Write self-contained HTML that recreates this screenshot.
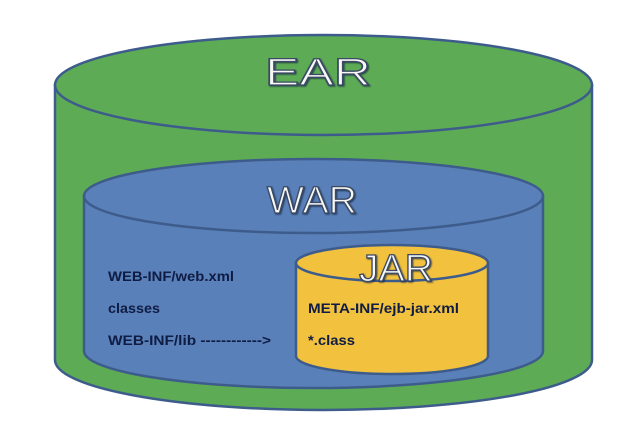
<!DOCTYPE html>
<html><head><style>html,body{margin:0;padding:0;background:#fff;width:633px;height:426px;overflow:hidden}</style></head>
<body>
<svg width="633" height="426" viewBox="0 0 633 426" xmlns="http://www.w3.org/2000/svg" font-family="Liberation Sans, sans-serif">
<defs><filter id="sh"><feDropShadow dx="1" dy="1" stdDeviation="0.8" flood-color="#1a2a45" flood-opacity="0.8"/></filter></defs>
<g stroke="#3d5c8c" stroke-width="2.5">
<path d="M55,85 L55,360 A268.5,50 0 0 0 592,360 L592,85 Z" fill="#5dac55"/>
<ellipse cx="323.5" cy="85" rx="268.5" ry="50" fill="#5dac55"/>
<path d="M84,196 L84,351 A229.5,37 0 0 0 543,351 L543,196 Z" fill="#5a80b9"/>
<ellipse cx="313.5" cy="196" rx="229.5" ry="37" fill="#5a80b9"/>
<path d="M296,263 L296,356 A96,18 0 0 0 488,356 L488,263 Z" fill="#f2c13e"/>
<ellipse cx="392" cy="263" rx="96" ry="18" fill="#f2c13e"/>
</g>
<g fill="#f8f8f4" stroke="#3a4a66" stroke-width="1.3" font-size="38" text-anchor="middle" filter="url(#sh)">
<text x="318" y="85" textLength="106" lengthAdjust="spacingAndGlyphs">EAR</text>
<text x="312" y="213" textLength="90" lengthAdjust="spacingAndGlyphs">WAR</text>
<text x="396" y="281" textLength="74" lengthAdjust="spacingAndGlyphs">JAR</text>
</g>
<g fill="#0f1c44" font-weight="bold" font-size="14">
<text x="108" y="281" textLength="126" lengthAdjust="spacingAndGlyphs">WEB-INF/web.xml</text>
<text x="108" y="313" textLength="52" lengthAdjust="spacingAndGlyphs">classes</text>
<text x="108" y="345" textLength="163" lengthAdjust="spacingAndGlyphs">WEB-INF/lib ------------&gt;</text>
<text x="308" y="313" textLength="151" lengthAdjust="spacingAndGlyphs">META-INF/ejb-jar.xml</text>
<text x="308" y="345" textLength="47" lengthAdjust="spacingAndGlyphs">*.class</text>
</g>
</svg>
</body></html>
